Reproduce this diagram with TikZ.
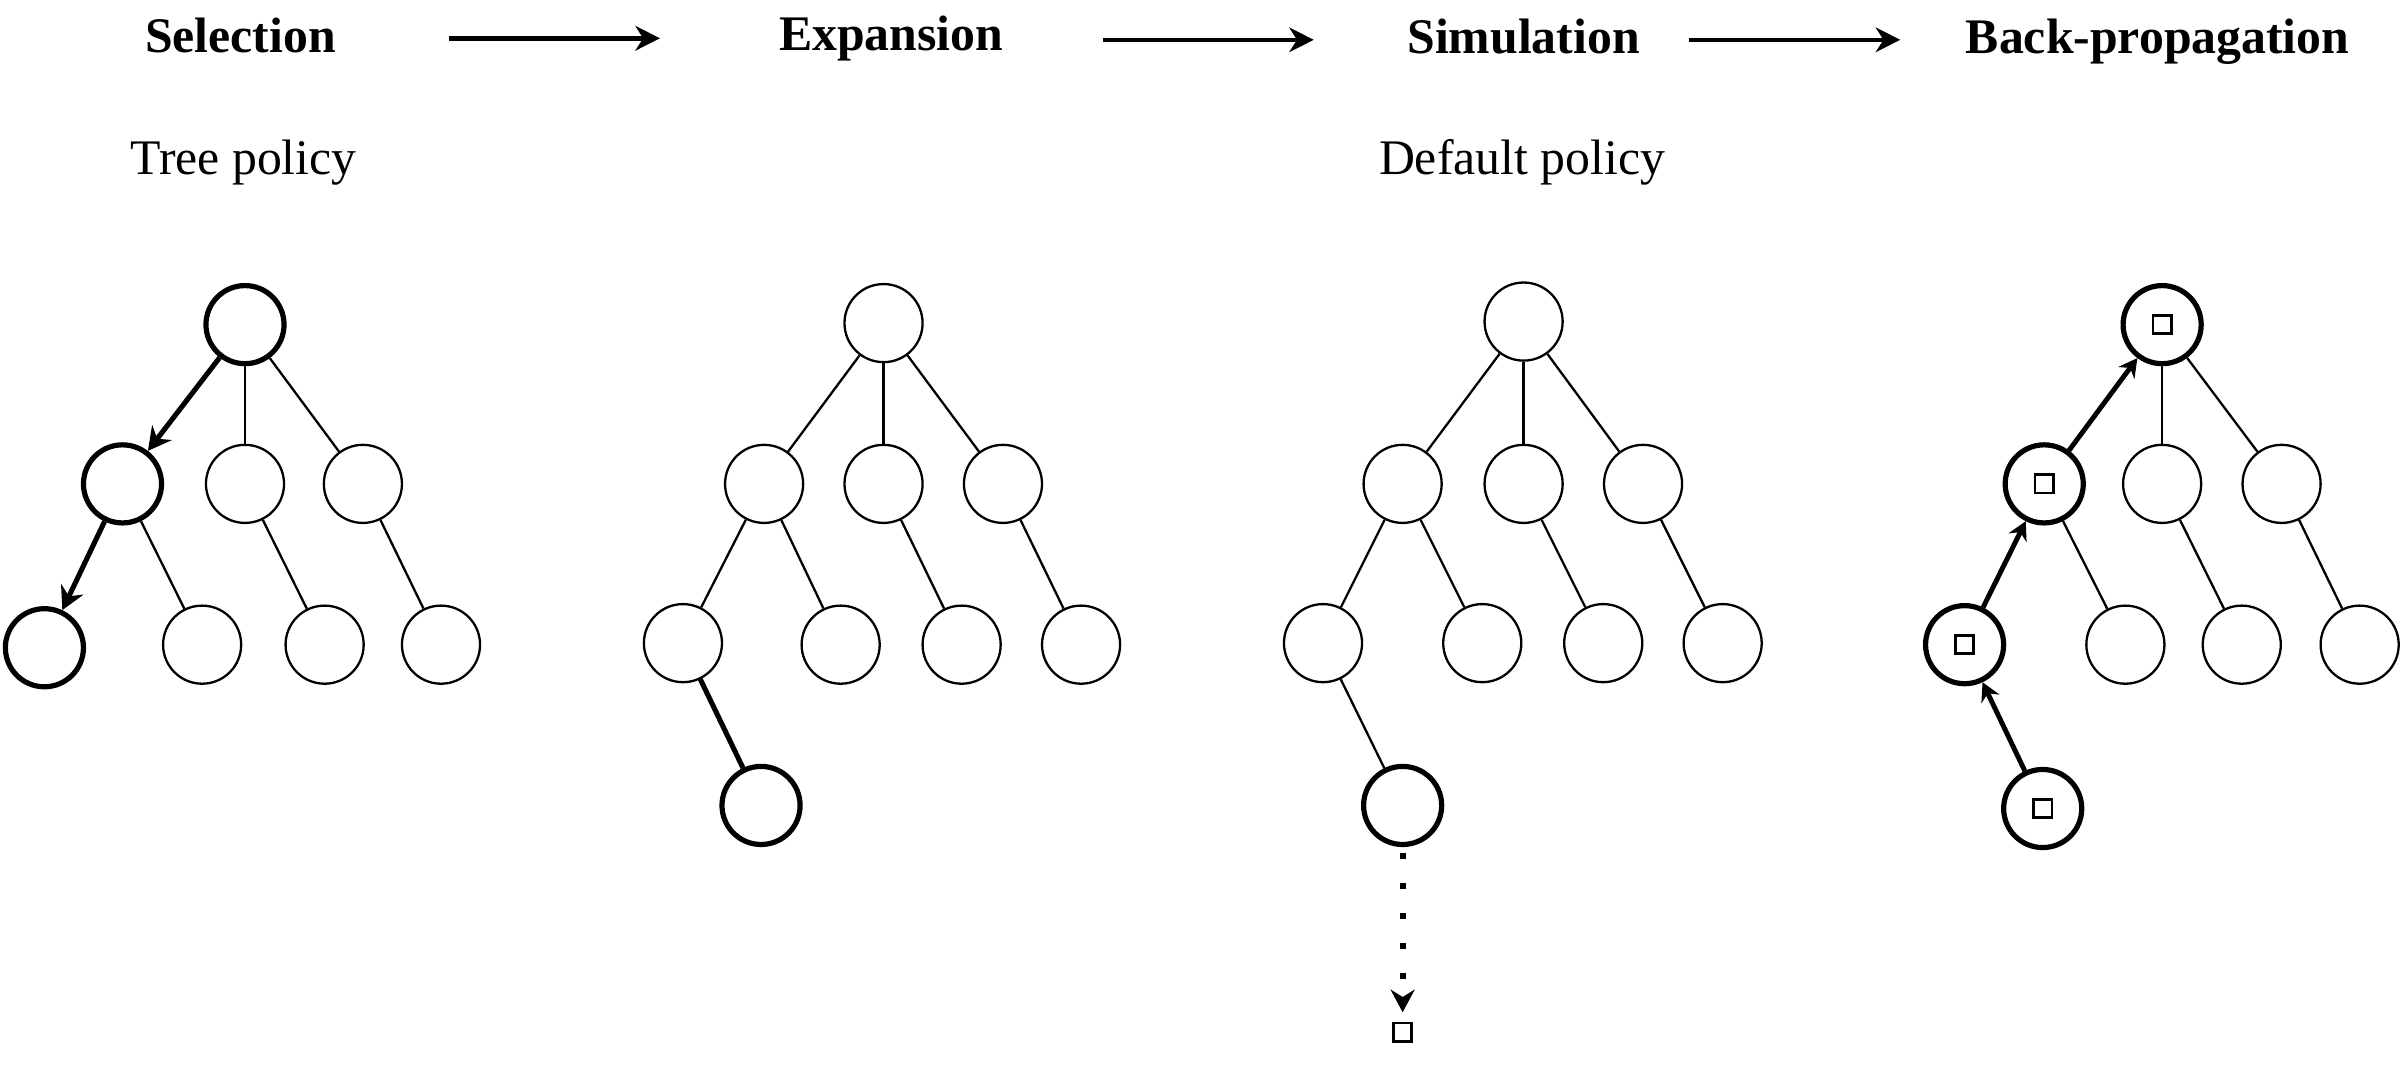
\documentclass[tikz,border=0pt]{standalone}
\usepackage{fontspec}
\setmainfont{Liberation Serif}
\usetikzlibrary{arrows.meta}
\usetikzlibrary{positioning}

\begin{document}
\begin{tikzpicture}[x=1pt, y=-1pt,
    knot/.style={draw, circle, minimum size=51pt, inner sep=0pt, line width=1.5pt},
    hot/.style={knot, line width=3.4pt},
    val/.style={draw, rectangle, minimum size=12pt, inner sep=0pt, line width=1.8pt},
    thin/.style={line width=1.5pt},
    path/.style={line width=3.3pt, -{Stealth[length=15pt, width=16pt, inset=5pt]}},
    back/.style={line width=3.2pt, -{Stealth[length=12pt, width=13pt, inset=4pt]}},
    phase/.style={anchor=base, font=\fontsize{32.5}{38}\selectfont\bfseries},
    policy/.style={anchor=base, font=\fontsize{32.5}{38}\selectfont}]
    \useasboundingbox (0,0) rectangle (1568,710);

    % Phasen
    \node[phase] (t1) at (157,34.5) {Selection};
    \node[phase] (t2) at (582,33) {Expansion};
    \node[phase] (t3) at (995,35) {Simulation};
    \node[phase] (t4) at (1409,35) {Back-propagation};
    \coordinate (p1) at (293,25); \coordinate (q1) at (431,25);
    \coordinate (p2) at (720,26); \coordinate (q2) at (858,26);
    \coordinate (p3) at (1103,26); \coordinate (q3) at (1241,26);
    \foreach \a/\b in {p1/q1, p2/q2, p3/q3}
        \draw[line width=3pt, -{Stealth[length=16pt, width=16pt, inset=5pt]}] (\a) -- (\b);
    \node[policy] (tp) at (159,114) {Tree policy};
    \node[policy] (dp) at (994,114) {Default policy};

    % Selection
    \node[hot]  (a0) at (160,212) {};
    \node[hot]  (a1) at (80,316) {};
    \node[knot] (a2) at (160,316) {};
    \node[knot] (a3) at (237,316) {};
    \node[hot]  (a4) at (29,423) {};
    \node[knot] (a5) at (132,421) {};
    \node[knot] (a6) at (212,421) {};
    \node[knot] (a7) at (288,421) {};
    \draw[path] (a0) -- (a1);
    \draw[path] (a1) -- (a4);
    \foreach \u/\v in {a0/a2, a0/a3, a1/a5, a2/a6, a3/a7}
        \draw[thin] (\u) -- (\v);

    % Expansion
    \node[knot] (b0) at (577,211) {};
    \node[knot] (b1) at (499,316) {};
    \node[knot] (b2) at (577,316) {};
    \node[knot] (b3) at (655,316) {};
    \node[knot] (b4) at (446,420) {};
    \node[knot] (b5) at (549,421) {};
    \node[knot] (b6) at (628,421) {};
    \node[knot] (b7) at (706,421) {};
    \node[hot]  (b8) at (497,526) {};
    \foreach \u/\v in {b0/b1, b0/b2, b0/b3, b1/b4, b1/b5, b2/b6, b3/b7}
        \draw[thin] (\u) -- (\v);
    \draw[line width=3.3pt] (b4) -- (b8);

    % Simulation
    \node[knot] (c0) at (995,210) {};
    \node[knot] (c1) at (916,316) {};
    \node[knot] (c2) at (995,316) {};
    \node[knot] (c3) at (1073,316) {};
    \node[knot] (c4) at (864,420) {};
    \node[knot] (c5) at (968,420) {};
    \node[knot] (c6) at (1047,420) {};
    \node[knot] (c7) at (1125,420) {};
    \node[hot]  (c8) at (916,526) {};
    \node[val]  (c9) at (916,674) {};
    \foreach \u/\v in {c0/c1, c0/c2, c0/c3, c1/c4, c1/c5, c2/c6, c3/c7, c4/c8}
        \draw[thin] (\u) -- (\v);
    \draw[line width=4pt, dash pattern=on 4pt off 15.5pt, shorten <=4pt, shorten >=6pt,
          -{Stealth[length=15pt, width=16pt, inset=5pt, line width=0pt]}] (c8) -- (c9);

    % Back-propagation
    \node[hot]  (d0) at (1412,212) {};
    \node[hot]  (d1) at (1335,316) {};
    \node[knot] (d2) at (1412,316) {};
    \node[knot] (d3) at (1490,316) {};
    \node[hot]  (d4) at (1283,421) {};
    \node[knot] (d5) at (1388,421) {};
    \node[knot] (d6) at (1464,421) {};
    \node[knot] (d7) at (1541,421) {};
    \node[hot]  (d8) at (1334,528) {};
    \foreach \n in {d0, d1, d4, d8}
        \node[val] at (\n) {};
    \foreach \u/\v in {d0/d2, d0/d3, d1/d5, d2/d6, d3/d7}
        \draw[thin] (\u) -- (\v);
    \draw[back] (d8) -- (d4);
    \draw[back] (d4) -- (d1);
    \draw[back] (d1) -- (d0);
\end{tikzpicture}
\end{document}
